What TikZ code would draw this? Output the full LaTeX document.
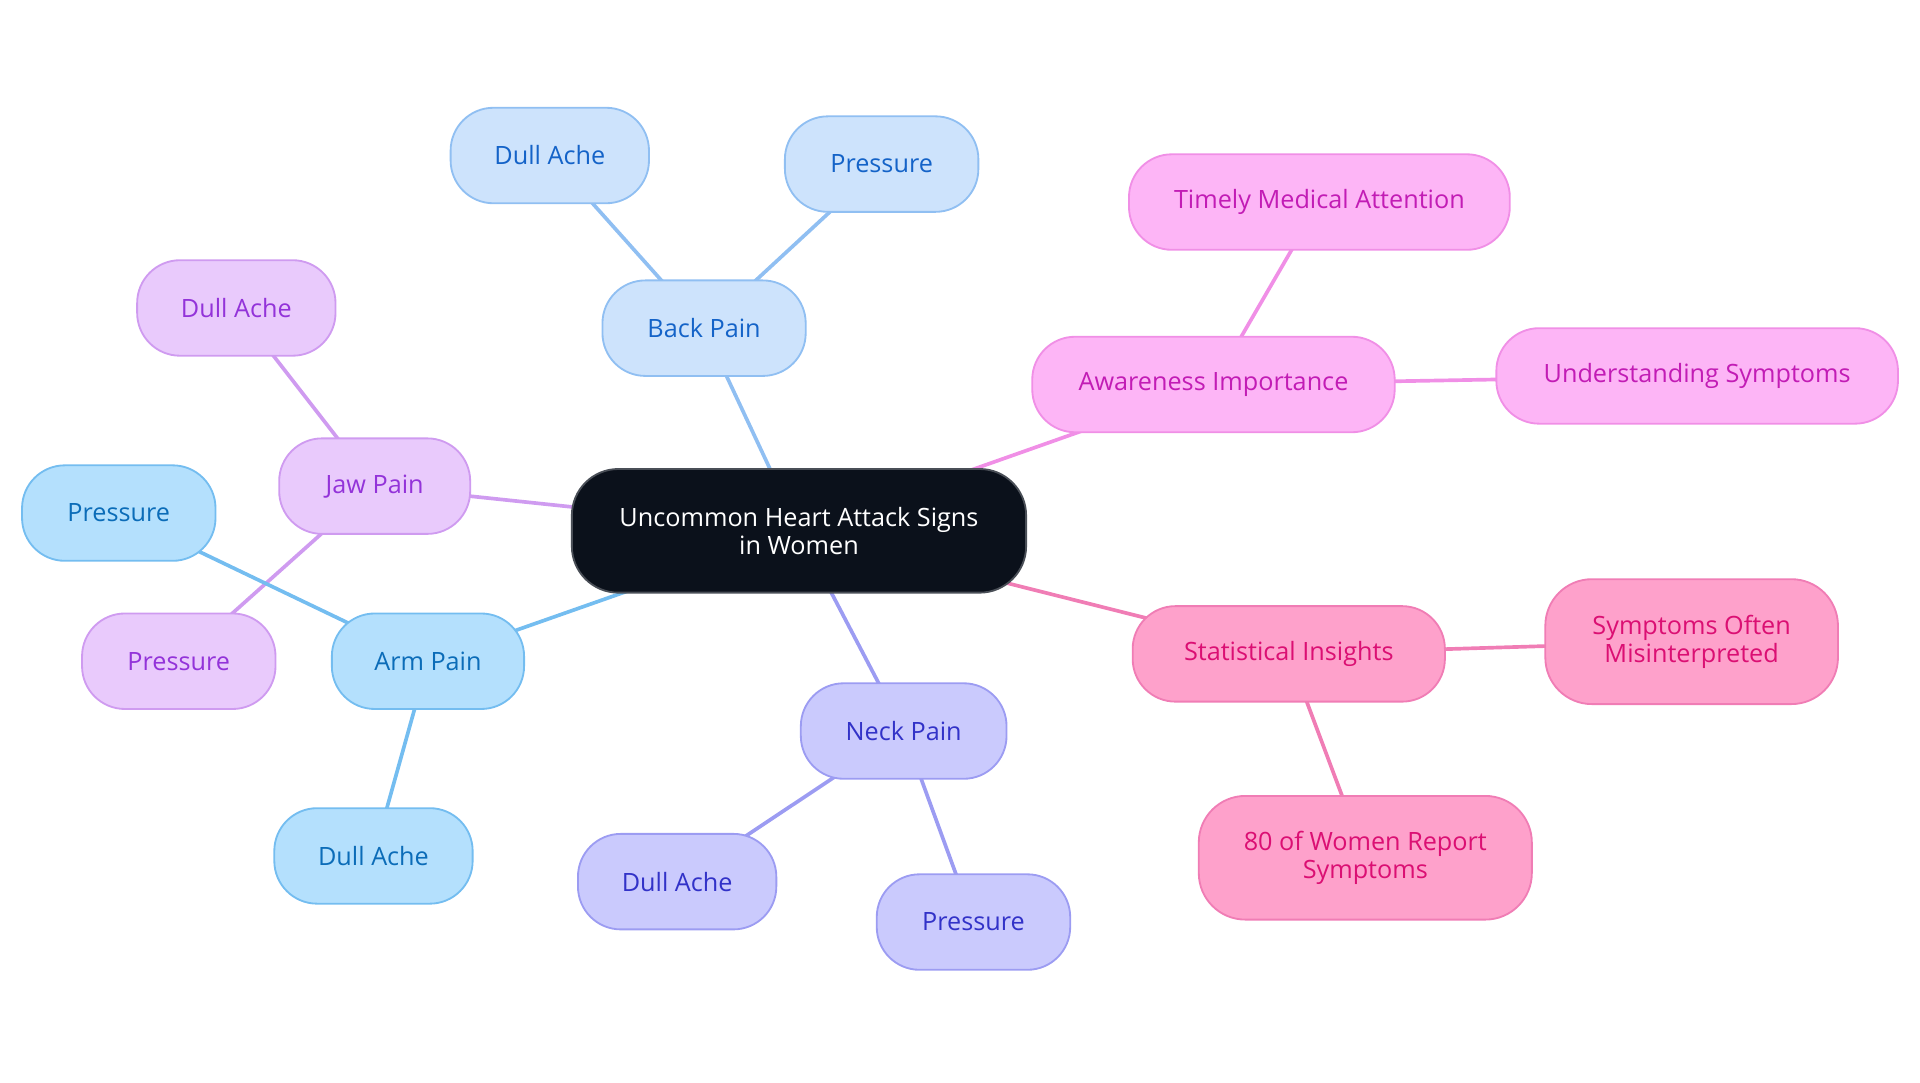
\documentclass[tikz,border=0pt]{standalone}
\usepackage{fontspec}
\setmainfont{Open Sans}
\usetikzlibrary{backgrounds}

\definecolor{rootfill}{HTML}{0B111B}
\definecolor{rootline}{HTML}{4A4F57}
\definecolor{backfill}{HTML}{CDE3FC}
\definecolor{backline}{HTML}{90BFF2}
\definecolor{backtext}{HTML}{1463C8}
\definecolor{jawfill}{HTML}{E9CAFC}
\definecolor{jawline}{HTML}{CF9BF0}
\definecolor{jawtext}{HTML}{9333D9}
\definecolor{armfill}{HTML}{B4E0FD}
\definecolor{armline}{HTML}{74BDF0}
\definecolor{armtext}{HTML}{0B6CB8}
\definecolor{neckfill}{HTML}{CACAFD}
\definecolor{neckline}{HTML}{9C9CF2}
\definecolor{necktext}{HTML}{3232C8}
\definecolor{awarefill}{HTML}{FDB5F6}
\definecolor{awareline}{HTML}{F08FE6}
\definecolor{awaretext}{HTML}{C21CB5}
\definecolor{statfill}{HTML}{FEA1CB}
\definecolor{statline}{HTML}{F07DB5}
\definecolor{stattext}{HTML}{DB0F73}

\begin{document}
\begin{tikzpicture}[x=0.5pt,y=-0.5pt]
	\tikzstyle{topic} = [draw, rounded corners=17.5pt, minimum height=39pt, line width=0.75pt, align=center, font=\fontsize{10.3}{11.4}\selectfont]
	\tikzstyle{root} = [topic, fill=rootfill, draw=rootline, text=white, rounded corners=19pt, minimum width=185.5pt, minimum height=50.5pt]
	\tikzstyle{back} = [topic, fill=backfill, draw=backline, text=backtext]
	\tikzstyle{jaw} = [topic, fill=jawfill, draw=jawline, text=jawtext]
	\tikzstyle{arm} = [topic, fill=armfill, draw=armline, text=armtext]
	\tikzstyle{neck} = [topic, fill=neckfill, draw=neckline, text=necktext]
	\tikzstyle{aware} = [topic, fill=awarefill, draw=awareline, text=awaretext]
	\tikzstyle{stat} = [topic, fill=statfill, draw=statline, text=stattext]
	\tikzset{edge/.style = {line width=1.5pt}}
	
	\useasboundingbox (0,0) rectangle (1568,884);
	
	\node[root](signs) at (652.5,433.5) {Uncommon Heart Attack Signs\\in Women};
	
	\node[back, minimum width=83pt](back) at (575,268) {Back Pain};
	\node[back, minimum width=81pt](backache) at (449,127) {Dull Ache};
	\node[back, minimum width=79pt](backpress) at (720,134) {Pressure};
	
	\node[jaw, minimum width=78pt](jaw) at (306,397) {Jaw Pain};
	\node[jaw, minimum width=81pt](jawache) at (193,251.5) {Dull Ache};
	\node[jaw, minimum width=79pt](jawpress) at (146,540) {Pressure};
	
	\node[arm, minimum width=78.5pt](arm) at (349.5,540) {Arm Pain};
	\node[arm, minimum width=79pt](armpress) at (97,419) {Pressure};
	\node[arm, minimum width=81pt](armache) at (305,699) {Dull Ache};
	
	\node[neck, minimum width=84pt](neck) at (738,597) {Neck Pain};
	\node[neck, minimum width=81pt](neckache) at (553,720) {Dull Ache};
	\node[neck, minimum width=79pt](neckpress) at (795,753) {Pressure};
	
	\node[aware, minimum width=148pt](aware) at (991,314) {Awareness Importance};
	\node[aware, minimum width=155.5pt](timely) at (1077.5,165) {Timely Medical Attention};
	\node[aware, minimum width=164pt](understand) at (1386,307) {Understanding Symptoms};
	
	\node[stat, minimum width=127.5pt](stat) at (1052.5,534) {Statistical Insights};
	\node[stat, minimum width=119.5pt, minimum height=51pt, rounded corners=19pt](misread) at (1381.5,524) {Symptoms Often\\Misinterpreted};
	\node[stat, minimum width=136pt, minimum height=50.5pt, rounded corners=19pt](eighty) at (1115,700.5) {80 of Women Report\\Symptoms};
	
	\begin{pgfonlayer}{background}
		\draw[edge, backline](signs.center) to (back.center);
		\draw[edge, backline](back.center) to (backache.center);
		\draw[edge, backline](back.center) to (backpress.center);
		
		\draw[edge, jawline](signs.center) to (jaw.center);
		\draw[edge, jawline](jaw.center) to (jawache.center);
		\draw[edge, jawline](jaw.center) to (jawpress.center);
		
		\draw[edge, armline](signs.center) to (arm.center);
		\draw[edge, armline](arm.center) to (armpress.center);
		\draw[edge, armline](arm.center) to (armache.center);
		
		\draw[edge, neckline](signs.center) to (neck.center);
		\draw[edge, neckline](neck.center) to (neckache.center);
		\draw[edge, neckline](neck.center) to (neckpress.center);
		
		\draw[edge, awareline](signs.center) to (aware.center);
		\draw[edge, awareline](aware.center) to (timely.center);
		\draw[edge, awareline](aware.center) to (understand.center);
		
		\draw[edge, statline](signs.center) to (stat.center);
		\draw[edge, statline](stat.center) to (misread.center);
		\draw[edge, statline](stat.center) to (eighty.center);
	\end{pgfonlayer}
\end{tikzpicture}
\end{document}
